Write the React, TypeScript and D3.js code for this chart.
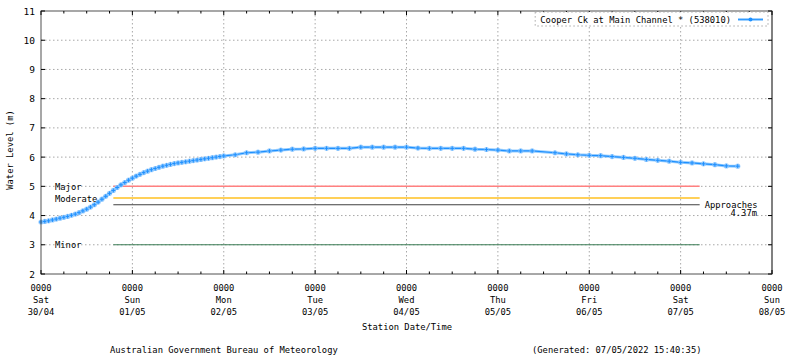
import React from "react";
import * as d3 from "d3";

// ---- data ----
const hours: number[] = [
  0, 1, 2, 3, 4, 5, 6, 7, 8, 9, 10, 11, 12, 13, 14, 15, 16, 17, 18, 19, 20, 21, 22, 23, 24,
  25, 26, 27, 28, 29, 30, 31, 32, 33, 34, 35, 36, 37, 38, 39, 40, 41, 42, 43, 44, 45, 46, 47, 48,
  51, 54, 57, 60, 63, 66, 69, 72, 75, 78, 81, 84, 87, 90, 93, 96, 99, 102, 105, 108, 111, 114,
  117, 120, 123, 126, 129, 135, 138, 141, 144, 147, 150, 153, 156, 159, 162, 165, 168, 171, 174,
  177, 180, 183,
];
const levels: number[] = [
  3.78, 3.8, 3.82, 3.85, 3.88, 3.91, 3.94, 3.97, 4.01, 4.05, 4.1, 4.16, 4.22, 4.29, 4.37, 4.46,
  4.56, 4.66, 4.76, 4.86, 4.96, 5.05, 5.13, 5.21, 5.28, 5.35, 5.41, 5.47, 5.52, 5.57, 5.61, 5.65,
  5.69, 5.72, 5.75, 5.78, 5.8, 5.82, 5.84, 5.86, 5.88, 5.9, 5.92, 5.94, 5.96, 5.98, 6.0, 6.02, 6.04,
  6.08, 6.15, 6.17, 6.21, 6.24, 6.27, 6.28, 6.3, 6.3, 6.3, 6.3, 6.34, 6.34, 6.34, 6.34, 6.34,
  6.31, 6.3, 6.3, 6.3, 6.3, 6.27, 6.26, 6.24, 6.21, 6.21, 6.21, 6.15, 6.11, 6.08, 6.06, 6.05,
  6.02, 5.99, 5.96, 5.92, 5.89, 5.86, 5.82, 5.8, 5.77, 5.74, 5.7, 5.69,
];

const dayNames: string[] = ["Sat", "Sun", "Mon", "Tue", "Wed", "Thu", "Fri", "Sat", "Sun"];
const dayDates: string[] = ["30/04", "01/05", "02/05", "03/05", "04/05", "05/05", "06/05", "07/05", "08/05"];
const yTicks: number[] = [2, 3, 4, 5, 6, 7, 8, 9, 10, 11];

const floodNames: string[] = ["Major", "Moderate", "Approaches", "Minor"];
const floodLevels: number[] = [5.0, 4.6, 4.37, 3.0];
const floodColors: string[] = ["#ff8080", "#ffc020", "#404040", "#3a7d55"];
const floodStartHour = 19;
const floodEndHour = 173;

const seriesName = "Cooper Ck at Main Channel * (538010)";

const W = 800;
const H = 358;
const M = { left: 41, right: 772, top: 11, bottom: 274 };
const FONT = "'DejaVu Sans Mono', 'Liberation Mono', monospace";
const FS = 8.8;

export default function App() {
  const x = d3.scaleLinear().domain([0, 192]).range([M.left, M.right]);
  const y = d3.scaleLinear().domain([2, 11]).range([M.bottom, M.top]);
  const pts = hours.map((h, i) => [x(h), y(levels[i])] as [number, number]);
  const line = d3.line()(pts) || "";
  const dayTicks = d3.range(0, 193, 24);
  const minorTicks = d3.range(0, 193, 6).filter((h) => h % 24 !== 0);
  const gridColor = "#a8a8a8";
  const dash = "1.5,2.5";
  const axisColor = "#505050";

  const legTextEnd = 731;
  const legTextStart = legTextEnd - seriesName.length * 5.3;

  return (
    <svg
      width={W}
      height={H}
      style={{ position: "absolute", left: 0, top: 0, background: "#fff" }}
      fontFamily={FONT}
      fontSize={FS}
    >
      <rect x={0} y={0} width={W} height={H} fill="#fff" />
      {/* grid */}
      {yTicks.slice(1, -1).map((v) => (
        <line key={"gy" + v} x1={M.left} x2={M.right} y1={y(v)} y2={y(v)} stroke={gridColor} strokeDasharray={dash} />
      ))}
      {dayTicks.slice(1, -1).map((h) => (
        <line key={"gx" + h} x1={x(h)} x2={x(h)} y1={M.top} y2={M.bottom} stroke={gridColor} strokeDasharray={dash} />
      ))}

      {/* flood lines */}
      {floodLevels.map((v, i) => (
        <line
          key={"fl" + i}
          x1={x(floodStartHour)}
          x2={x(floodEndHour)}
          y1={y(v)}
          y2={y(v)}
          stroke={floodColors[i]}
          strokeWidth={i < 2 ? 1.5 : 1.1}
        />
      ))}
      {floodNames.map((n, i) =>
        n === "Approaches" ? (
          <g key={"fn" + i}>
            <text x={x(floodEndHour) + 5} y={y(floodLevels[i]) + 3} fill="#000">
              {n}
            </text>
            <text x={757} y={y(floodLevels[i]) + 11} fill="#000" textAnchor="end">
              4.37m
            </text>
          </g>
        ) : (
          <text key={"fn" + i} x={55} y={y(floodLevels[i]) + 3.5} fill="#000">
            {n}
          </text>
        )
      )}

      {/* series */}
      <path d={line} fill="none" stroke="#7cc0ff" strokeWidth={3} opacity={0.8} />
      <path d={line} fill="none" stroke="#1e90ff" strokeWidth={1.2} />
      {pts.map(([px, py], i) => (
        <g key={"p" + i}>
          <circle cx={px} cy={py} r={2.6} fill="#8ec8ff" opacity={0.9} />
          <path d={`M${px - 2},${py}H${px + 2}M${px},${py - 2}V${py + 2}`} stroke="#1e90ff" strokeWidth={1} />
        </g>
      ))}

      {/* frame */}
      <rect
        x={M.left}
        y={M.top}
        width={M.right - M.left}
        height={M.bottom - M.top}
        fill="none"
        stroke={axisColor}
        strokeWidth={1}
      />
      <line x1={M.right} x2={M.right} y1={M.top} y2={M.bottom} stroke="#808080" strokeWidth={2} />
      {/* y ticks */}
      {yTicks.map((v) => (
        <g key={"ty" + v}>
          <line x1={M.left} x2={M.left + 4} y1={y(v)} y2={y(v)} stroke="#000" />
          <line x1={M.right - 4} x2={M.right} y1={y(v)} y2={y(v)} stroke="#000" />
          <text x={35} y={y(v) + 3.5} textAnchor="end" fill="#000" fontSize={9.5}>
            {v}
          </text>
        </g>
      ))}
      {/* x ticks */}
      {dayTicks.map((h, i) => (
        <g key={"tx" + h}>
          <line x1={x(h)} x2={x(h)} y1={M.bottom} y2={M.bottom - 4} stroke="#000" />
          <line x1={x(h)} x2={x(h)} y1={M.top} y2={M.top + 4} stroke="#000" />
          <text x={x(h)} y={291} textAnchor="middle" fill="#000">
            0000
          </text>
          <text x={x(h)} y={303} textAnchor="middle" fill="#000">
            {dayNames[i]}
          </text>
          <text x={x(h)} y={315} textAnchor="middle" fill="#000">
            {dayDates[i]}
          </text>
        </g>
      ))}
      {minorTicks.map((h) => (
        <g key={"mx" + h}>
          <line x1={x(h)} x2={x(h)} y1={M.bottom} y2={M.bottom - 2.5} stroke="#000" />
          <line x1={x(h)} x2={x(h)} y1={M.top} y2={M.top + 2.5} stroke="#000" />
        </g>
      ))}

      {/* axis titles */}
      <text x={407} y={330} textAnchor="middle" fill="#000">
        Station Date/Time
      </text>
      <text transform={`translate(13,${150}) rotate(-90)`} textAnchor="middle" fill="#000">
        Water Level (m)
      </text>

      {/* legend */}
      <rect
        x={legTextStart - 5}
        y={12}
        width={768 - (legTextStart - 5)}
        height={14}
        fill="#fff"
        stroke={gridColor}
        strokeDasharray={dash}
      />
      <text x={legTextEnd} y={22.5} textAnchor="end" fill="#000">
        {seriesName}
      </text>
      <line x1={738} x2={763} y1={19.5} y2={19.5} stroke="#7cc0ff" strokeWidth={2.5} />
      <line x1={738} x2={763} y1={19.5} y2={19.5} stroke="#1e90ff" strokeWidth={0.8} />
      <circle cx={750.5} cy={19.5} r={2} fill="#1e90ff" />

      {/* footer */}
      <text x={110} y={353} fill="#000">
        Australian Government Bureau of Meteorology
      </text>
      <text x={532} y={353} fill="#000">
        (Generated: 07/05/2022 15:40:35)
      </text>
    </svg>
  );
}
